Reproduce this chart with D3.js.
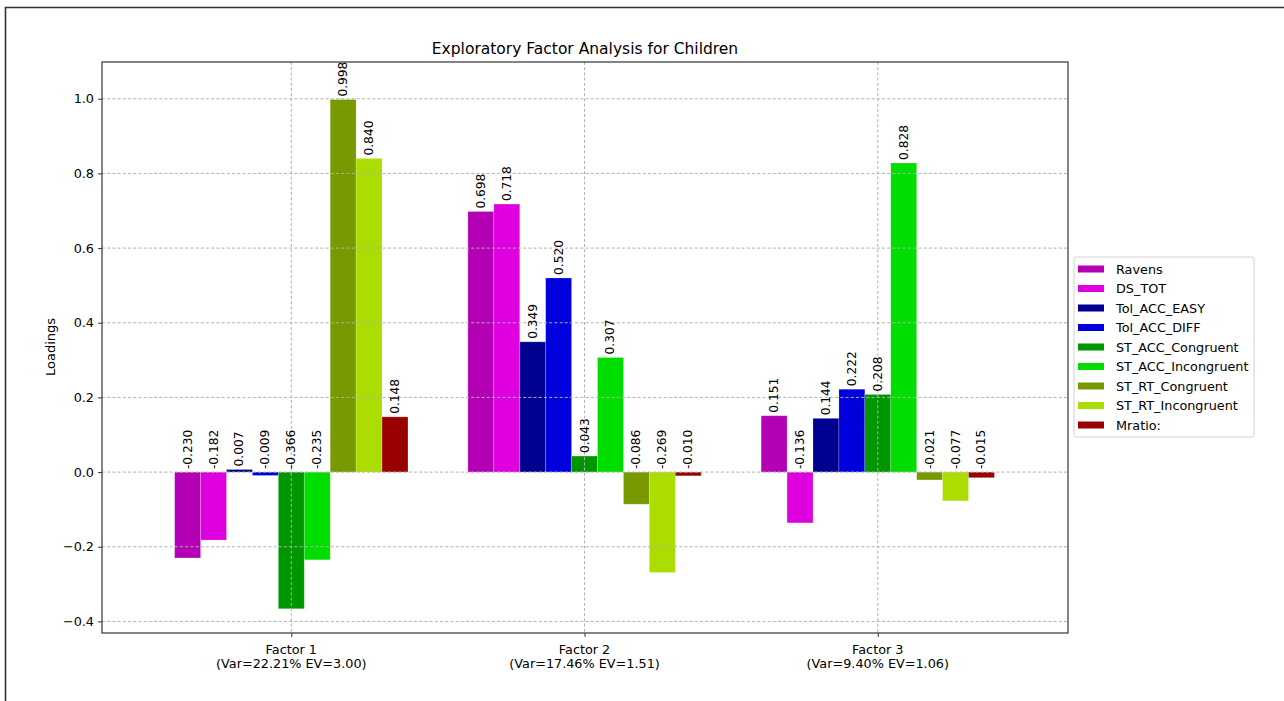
<!DOCTYPE html>
<html>
<head>
<meta charset="utf-8">
<script src="https://cdn.jsdelivr.net/npm/d3@7"></script>
<style>
  html, body { margin: 0; padding: 0; background: #fff; }
  svg { display: block; font-family: "DejaVu Sans", sans-serif; }
</style>
</head>
<body>
<svg id="chart" width="1284" height="701"></svg>
<script>
// Factor labels shown under each group
const factors = ["Factor 1", "Factor 2", "Factor 3"];
const factorStats = ["(Var=22.21% EV=3.00)", "(Var=17.46% EV=1.51)", "(Var=9.40% EV=1.06)"];

// Measured variables (one bar per factor each)
const variables = ["Ravens", "DS_TOT", "Tol_ACC_EASY", "Tol_ACC_DIFF", "ST_ACC_Congruent",
                   "ST_ACC_Incongruent", "ST_RT_Congruent", "ST_RT_Incongruent", "Mratio:"];

// Loadings of each variable on Factor 1, 2, 3
const ravens            = [-0.230,  0.698,  0.151];
const dsTot             = [-0.182,  0.718, -0.136];
const tolAccEasy        = [ 0.007,  0.349,  0.144];
const tolAccDiff        = [-0.009,  0.520,  0.222];
const stAccCongruent    = [-0.366,  0.043,  0.208];
const stAccIncongruent  = [-0.235,  0.307,  0.828];
const stRtCongruent     = [ 0.998, -0.086, -0.021];
const stRtIncongruent   = [ 0.840, -0.269, -0.077];
const mratio            = [ 0.148, -0.010, -0.015];

const loadings = [ravens, dsTot, tolAccEasy, tolAccDiff, stAccCongruent,
                  stAccIncongruent, stRtCongruent, stRtIncongruent, mratio];

const colors = ["#b400b4", "#de00de", "#000090", "#0000dd", "#009600",
                "#00dd00", "#799900", "#abdd00", "#990000"];

const yTicks = [-0.4, -0.2, 0.0, 0.2, 0.4, 0.6, 0.8, 1.0];

const svg = d3.select("#chart");

// outer figure frame (left and top edges)
svg.append("path")
  .attr("d", "M5.5,701 L5.5,7.5 L1284,7.5")
  .attr("fill", "none").attr("stroke", "#333").attr("stroke-width", 1.6);

const plot = { left: 102, right: 1068, top: 62, bottom: 633 };

const x = d3.scaleLinear().domain([-0.6456, 2.6486]).range([plot.left, plot.right]);
const y = d3.scaleLinear().domain([-0.431, 1.0985]).range([plot.bottom, plot.top]);
const barW = 0.0884;

const g = svg.append("g");

// bars
const bars = [];
loadings.forEach((vals, j) => {
  vals.forEach((v, i) => {
    bars.push({ v, i, j, cx: i + (j - 4) * barW });
  });
});

g.selectAll("rect.bar").data(bars).enter().append("rect")
  .attr("class", "bar")
  .attr("x", d => x(d.cx - barW / 2))
  .attr("width", d => x(barW) - x(0))
  .attr("y", d => y(Math.max(0, d.v)))
  .attr("height", d => Math.abs(y(d.v) - y(0)))
  .attr("fill", d => colors[d.j])
  .attr("stroke", "rgba(255,255,255,0.25)")
  .attr("stroke-width", 0.8);

// grid lines (drawn over bars)
const grid = svg.append("g").attr("stroke", "#b0b0b0").attr("stroke-dasharray", "3,2.2").attr("stroke-width", 1);
yTicks.forEach(t => {
  grid.append("line").attr("x1", plot.left).attr("x2", plot.right)
    .attr("y1", y(t)).attr("y2", y(t));
});
factors.forEach((f, i) => {
  grid.append("line").attr("x1", x(i)).attr("x2", x(i))
    .attr("y1", plot.top).attr("y2", plot.bottom);
});

// value labels, rotated
svg.append("g").selectAll("text").data(bars).enter().append("text")
  .attr("transform", d => `translate(${x(d.cx)},${y(Math.max(0, d.v)) - 3}) rotate(-90)`)
  .attr("text-anchor", "start")
  .attr("dominant-baseline", "central")
  .attr("font-size", 12.2)
  .attr("fill", "#000")
  .text(d => d.v.toFixed(3));

// plot frame
svg.append("rect")
  .attr("x", plot.left).attr("y", plot.top)
  .attr("width", plot.right - plot.left).attr("height", plot.bottom - plot.top)
  .attr("fill", "none").attr("stroke", "#333").attr("stroke-width", 1.2);

// y axis
const yAxis = d3.axisLeft(y).tickValues(yTicks).tickSize(4).tickPadding(4)
  .tickFormat(d => d3.format(".1f")(d).replace("-", "\u2212"));
const ya = svg.append("g").attr("transform", `translate(${plot.left},0)`).call(yAxis);
ya.select(".domain").remove();
ya.selectAll("line").attr("stroke", "#333");
ya.selectAll("text").attr("font-size", 12.8).attr("fill", "#000")
  .attr("font-family", "DejaVu Sans, sans-serif");

// x axis ticks + two-line labels
const xAxis = d3.axisBottom(x).tickValues([0, 1, 2]).tickSize(4).tickFormat("");
const xa = svg.append("g").attr("transform", `translate(0,${plot.bottom})`).call(xAxis);
xa.select(".domain").remove();
xa.selectAll("line").attr("stroke", "#333");
factors.forEach((f, i) => {
  const t = svg.append("text").attr("x", x(i)).attr("y", 653.5)
    .attr("text-anchor", "middle").attr("font-size", 12.8).attr("fill", "#000");
  t.append("tspan").attr("x", x(i)).text(f);
  t.append("tspan").attr("x", x(i)).attr("dy", 14.5).text(factorStats[i]);
});

// y label
svg.append("text")
  .attr("transform", `translate(55,347) rotate(-90)`)
  .attr("text-anchor", "middle").attr("font-size", 13)
  .text("Loadings");

// title
svg.append("text")
  .attr("x", (plot.left + plot.right) / 2).attr("y", 53.5)
  .attr("text-anchor", "middle").attr("font-size", 15.5)
  .text("Exploratory Factor Analysis for Children");

// legend
const lg = svg.append("g").attr("transform", "translate(1074,257)");
lg.append("rect").attr("width", 180).attr("height", 180).attr("rx", 2)
  .attr("fill", "#fff").attr("stroke", "#d0d0d0").attr("stroke-width", 1);
variables.forEach((name, j) => {
  const cy = 12 + j * 19.5;
  lg.append("rect").attr("x", 4).attr("y", cy - 3.5).attr("width", 26).attr("height", 7)
    .attr("fill", colors[j]);
  lg.append("text").attr("x", 42).attr("y", cy).attr("dominant-baseline", "central")
    .attr("font-size", 12.8).text(name);
});
</script>
</body>
</html>
